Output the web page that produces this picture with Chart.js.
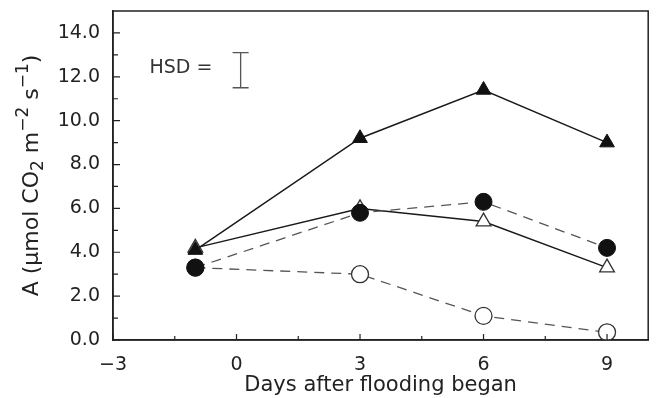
<!DOCTYPE html>
<html>
<head>
<meta charset="utf-8">
<script src="https://cdn.jsdelivr.net/npm/chart.js@4.4.1/dist/chart.umd.min.js"></script>
<style>
html, body { margin: 0; padding: 0; background: #fff; }
#wrap { width: 658px; height: 398px; }
</style>
</head>
<body>
<div id="wrap"><canvas id="grafico"></canvas></div>
<script>
//Dados
const dias = [-1, 3, 6, 9];
const trianguloCheio = [4.1, 9.2, 11.4, 9.0];
const circuloCheio = [3.3, 5.8, 6.3, 4.2];
const trianguloVazio = [4.2, 6.0, 5.4, 3.3];
const circuloVazio = [3.3, 3.0, 1.1, 0.35];

//Barra HSD
const hsdX = [0.1, 0.1];
const hsdY = [11.5, 13.1];
const hsdTexto = 'HSD =';
const hsdTextoPos = [-1.35, 12.4];

//Rótulos dos eixos
const xTicks = [-3, 0, 3, 6, 9];
const xMinor = [-1.5, 1.5, 4.5, 7.5];
const yTicks = [0, 2, 4, 6, 8, 10, 12, 14];
const yMinor = [1, 3, 5, 7, 9, 11, 13];
//Título do eixo y em partes: 0 normal, -1 subscrito, 1 sobrescrito
const tituloY = [['A (\u03bcmol CO', 0], ['2', -1], [' m', 0], ['\u22122', 1], [' s', 0], ['\u22121', 1], [')', 0]];

const fonte = "'DejaVu Sans', sans-serif";

function pontos(xs, ys) {
    return xs.map((x, i) => ({ x: x, y: ys[i] }));
}

//Desenha moldura, marcas internas, título do eixo y e o texto HSD
const moldura = {
    id: 'moldura',
    afterDraw(chart) {
        const ctx = chart.ctx;
        const a = chart.chartArea;
        const sx = chart.scales.x;
        const sy = chart.scales.y;
        ctx.save();
        ctx.strokeStyle = '#222';
        ctx.lineWidth = 1.5;
        ctx.strokeRect(a.left, a.top, a.right - a.left, a.bottom - a.top);

        ctx.lineWidth = 1.2;
        ctx.beginPath();
        xTicks.concat(xMinor).forEach(v => {
            let len = xTicks.includes(v) ? 6 : 4;
            let px = sx.getPixelForValue(v);
            ctx.moveTo(px, a.bottom);
            ctx.lineTo(px, a.bottom - len);
        });
        yTicks.concat(yMinor).forEach(v => {
            let len = yTicks.includes(v) ? 7 : 5;
            let py = sy.getPixelForValue(v);
            ctx.moveTo(a.left, py);
            ctx.lineTo(a.left + len, py);
        });
        ctx.stroke();

        ctx.fillStyle = '#333';
        ctx.font = '19px ' + fonte;
        ctx.textAlign = 'center';
        ctx.textBaseline = 'middle';
        ctx.fillText(hsdTexto, sx.getPixelForValue(hsdTextoPos[0]), sy.getPixelForValue(hsdTextoPos[1]));

        //Título do eixo y com sub e sobrescritos
        ctx.fillStyle = '#222';
        ctx.textAlign = 'left';
        ctx.textBaseline = 'alphabetic';
        let larg = 0;
        tituloY.forEach(p => {
            ctx.font = (p[1] == 0 ? 22 : 17) + 'px ' + fonte;
            larg += ctx.measureText(p[0]).width;
        });
        ctx.translate(30, (a.top + a.bottom) / 2);
        ctx.rotate(-Math.PI / 2);
        let pos = -larg / 2;
        tituloY.forEach(p => {
            ctx.font = (p[1] == 0 ? 22 : 17) + 'px ' + fonte;
            let dy = p[1] == 0 ? 0 : (p[1] < 0 ? 5 : -10);
            ctx.fillText(p[0], pos, 8 + dy);
            pos += ctx.measureText(p[0]).width;
        });
        ctx.restore();
    }
};

const ctx = document.getElementById('grafico');

new Chart(ctx, {
    type: 'line',
    data: {
        datasets: [
            {
                label: 'triangulo cheio',
                data: pontos(dias, trianguloCheio),
                borderColor: '#1a1a1a',
                borderWidth: 1.5,
                pointStyle: 'triangle',
                pointRadius: 8.5,
                pointBackgroundColor: '#111',
                pointBorderColor: '#111',
                pointBorderWidth: 1
            },
            {
                label: 'circulo cheio',
                data: pontos(dias, circuloCheio),
                borderColor: '#555',
                borderWidth: 1.3,
                borderDash: [10, 7],
                pointStyle: 'circle',
                pointRadius: 8.5,
                pointBackgroundColor: '#111',
                pointBorderColor: '#111',
                pointBorderWidth: 1
            },
            {
                label: 'triangulo vazio',
                data: pontos(dias, trianguloVazio),
                borderColor: '#1a1a1a',
                borderWidth: 1.5,
                pointStyle: 'triangle',
                pointRadius: 8.5,
                pointBackgroundColor: '#fff',
                pointBorderColor: '#333',
                pointBorderWidth: 1.3
            },
            {
                label: 'circulo vazio',
                data: pontos(dias, circuloVazio),
                borderColor: '#555',
                borderWidth: 1.3,
                borderDash: [10, 7],
                pointStyle: 'circle',
                pointRadius: 8.5,
                pointBackgroundColor: '#fff',
                pointBorderColor: '#333',
                pointBorderWidth: 1.3
            },
            {
                label: 'HSD',
                data: pontos(hsdX, hsdY),
                borderColor: '#555',
                borderWidth: 1.3,
                pointStyle: 'line',
                pointRadius: 8,
                pointBorderColor: '#555',
                pointBorderWidth: 1.3
            }
        ]
    },
    options: {
        responsive: true,
        maintainAspectRatio: false,
        animation: false,
        layout: { padding: { top: 0, right: 9, left: 0, bottom: 0 } },
        plugins: {
            legend: { display: false },
            tooltip: { enabled: false }
        },
        scales: {
            x: {
                type: 'linear',
                min: -3,
                max: 10,
                afterBuildTicks: scale => {
                    scale.ticks = xTicks.map(v => ({ value: v }));
                },
                afterFit: scale => { scale.height = 58; },
                grid: { display: false },
                border: { display: true, color: '#222', width: 1.5 },
                ticks: {
                    color: '#222',
                    padding: 6,
                    maxRotation: 0,
                    font: { family: fonte, size: 19 },
                    callback: v => v < 0 ? '\u2212' + Math.abs(v) : String(v)
                },
                title: {
                    display: true,
                    text: 'Days after flooding began',
                    color: '#222',
                    font: { family: fonte, size: 21 },
                    padding: { top: 0, bottom: 0 }
                }
            },
            y: {
                type: 'linear',
                min: 0,
                max: 15,
                afterBuildTicks: scale => {
                    scale.ticks = yTicks.map(v => ({ value: v }));
                },
                afterFit: scale => {
                    scale.width = 113;
                    scale.paddingTop = 11;
                    scale.paddingBottom = 0;
                },
                grid: { display: false },
                border: { display: true, color: '#222', width: 1.5 },
                ticks: {
                    color: '#222',
                    padding: 5,
                    font: { family: fonte, size: 19 },
                    callback: v => v.toFixed(1)
                },
                title: { display: false }
            }
        }
    },
    plugins: [moldura]
});
</script>
</body>
</html>
